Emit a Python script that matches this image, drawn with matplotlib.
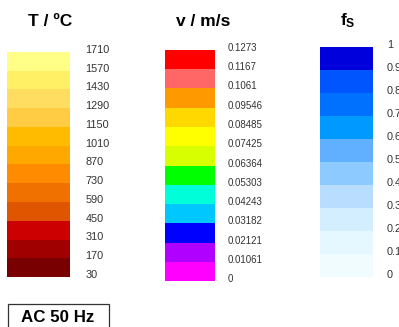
import matplotlib
matplotlib.use("Agg")
import matplotlib.pyplot as plt
from matplotlib.patches import Rectangle
from matplotlib.transforms import ScaledTranslation

plt.rcParams['font.family'] = ['Liberation Sans', 'DejaVu Sans']
plt.rcParams['mathtext.fontset'] = 'custom'
plt.rcParams['mathtext.bf'] = 'Liberation Sans:bold'
plt.rcParams['mathtext.rm'] = 'Liberation Sans'

# temperature legend
T_levels = [30, 170, 310, 450, 590, 730, 870, 1010, 1150, 1290, 1430, 1570, 1710]
T_labels = ["30", "170", "310", "450", "590", "730", "870", "1010", "1150", "1290", "1430", "1570", "1710"]
T_colors = ["#780000", "#a00000", "#cc0000", "#e05500", "#f07000", "#ff8c00",
            "#ffa800", "#ffbb00", "#ffcc44", "#ffdd60", "#fff066", "#ffff88"]

# velocity legend
v_levels = [0, 0.01061, 0.02121, 0.03182, 0.04243, 0.05303, 0.06364,
            0.07425, 0.08485, 0.09546, 0.1061, 0.1167, 0.1273]
v_labels = ["0", "0.01061", "0.02121", "0.03182", "0.04243", "0.05303", "0.06364",
            "0.07425", "0.08485", "0.09546", "0.1061", "0.1167", "0.1273"]
v_colors = ["#ff00ff", "#b000ff", "#0000ff", "#00c8ff", "#00ffd8", "#00ff00",
            "#d8ff00", "#ffff00", "#ffd800", "#ff9900", "#ff6666", "#ff0000"]

# solid fraction legend
fs_levels = [0, 0.1, 0.2, 0.3, 0.4, 0.5, 0.6, 0.7, 0.8, 0.9, 1]
fs_labels = ["0", "0.1", "0.2", "0.3", "0.4", "0.5", "0.6", "0.7", "0.8", "0.9", "1"]
fs_colors = ["#f0fcff", "#e6f8ff", "#d2eeff", "#b8ddff", "#8ccaff", "#60b0ff",
             "#0099ff", "#0070ff", "#0055ff", "#0000dd"]

W, H = 399, 327
fig = plt.figure(figsize=(W / 100, H / 100), dpi=100)


def color_legend(x0, x1, ytop, ybot, levels, labels, colors, pad, fs, title, tx, ty):
    ax = fig.add_axes([x0 / W, (H - ybot) / H, (x1 - x0) / W, (ybot - ytop) / H])
    lo = levels[:-1]
    hi = levels[1:]
    ax.bar([0] * len(lo), [b - a for a, b in zip(lo, hi)], bottom=lo, width=1,
           color=colors, align='edge', linewidth=0)
    ax.set_xlim(0, 1)
    ax.set_ylim(levels[0], levels[-1])
    ax.set_xticks([])
    ax.yaxis.tick_right()
    ax.set_yticks(levels)
    ax.set_yticklabels(labels, fontsize=fs, color="#333333")
    ax.tick_params(axis='y', length=0, pad=pad)
    # labels sit a little above the band edges
    off = ScaledTranslation(0, 3 / 100, fig.dpi_scale_trans)
    for lab in ax.get_yticklabels():
        lab.set_transform(lab.get_transform() + off)
    for s in ax.spines.values():
        s.set_visible(False)
    fig.text(tx / W, 1 - ty / H, title, ha='center', va='center',
             fontsize=12.5, fontweight='bold')
    return ax


color_legend(7, 70, 52, 277, T_levels, T_labels, T_colors, 11, 7.8, "T / \u00baC", 50, 21)
color_legend(165, 215, 50, 281, v_levels, v_labels, v_colors, 9, 7.0, "v / m/s", 203, 21)
color_legend(320, 373, 47, 277, fs_levels, fs_labels, fs_colors, 10, 7.8, r"$\mathbf{f_S}$", 348, 21)

# case label box
fig.patches.append(Rectangle((8 / W, -0.05), 101 / W, 0.05 + (H - 304) / H,
                             transform=fig.transFigure, fill=False,
                             edgecolor="#333333", linewidth=0.9))
fig.text(58 / W, 1 - 317 / H, "AC 50 Hz", ha='center', va='center',
         fontsize=12.2, fontweight='bold')

fig.savefig("out.png", dpi=100)
